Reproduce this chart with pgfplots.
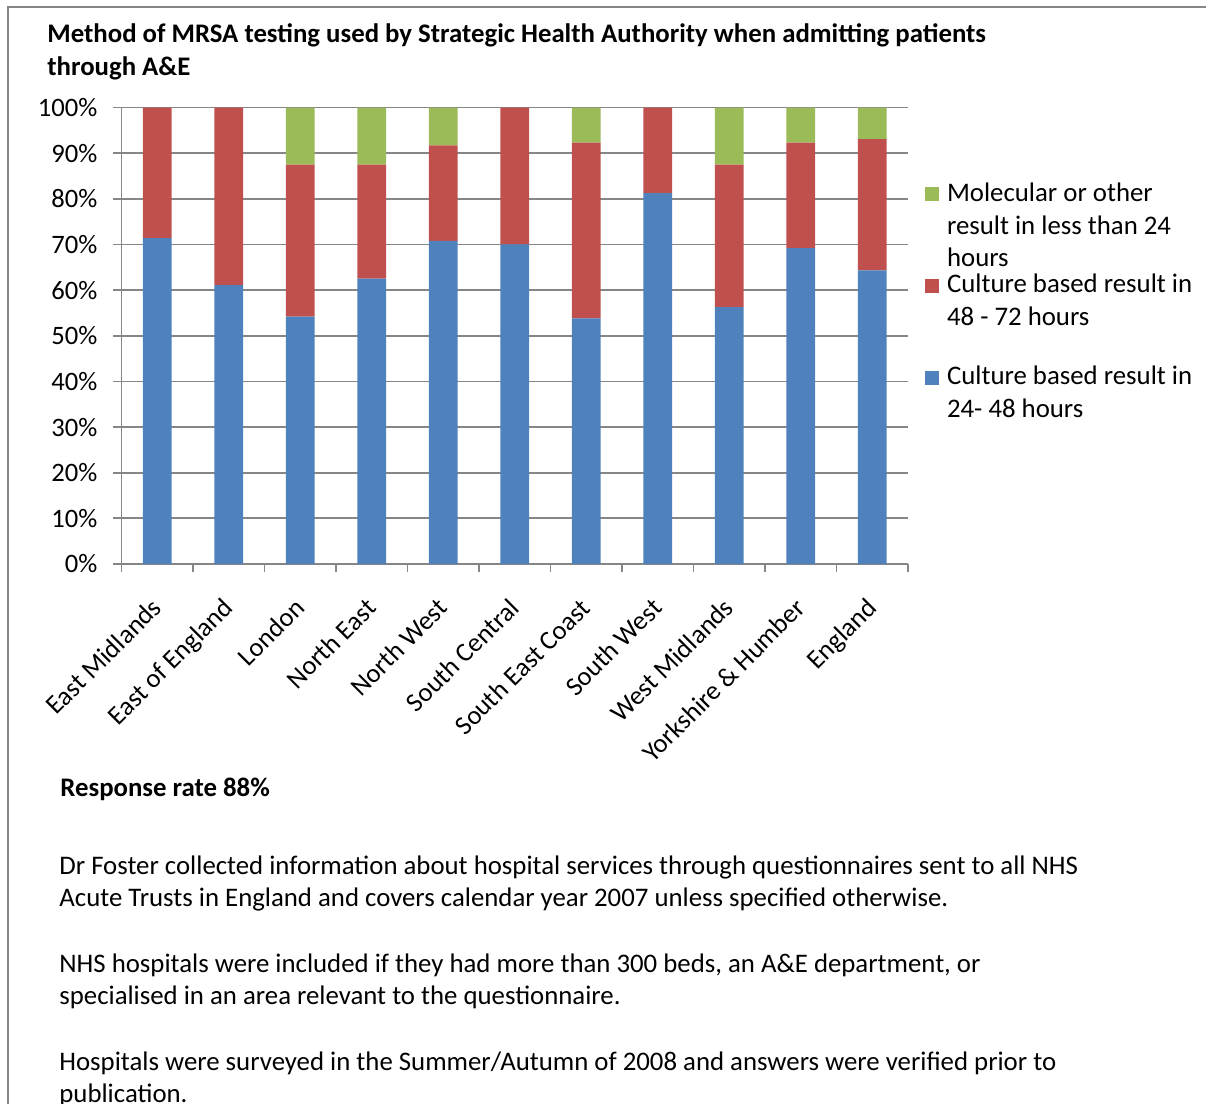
\documentclass[border=0pt]{standalone}
\usepackage{fontspec}
\setmainfont{Carlito}
\usepackage{pgfplots}
\pgfplotsset{compat=1.18}
\definecolor{cblue}{HTML}{4F81BD}
\definecolor{cred}{HTML}{C0504D}
\definecolor{cgreen}{HTML}{9BBB59}
\definecolor{cgrid}{HTML}{868686}
\newcommand{\legtext}[1]{\begin{tabular}[t]{@{}l@{}}#1\end{tabular}}
\begin{document}
\begin{tikzpicture}
\path[use as bounding box] (0,0) rectangle (603pt,-552pt);
\draw[cgrid, line width=1pt] (610pt,-3.5pt) -- (3.75pt,-3.5pt) -- (3.75pt,-560pt);
\node[anchor=base west, font=\bfseries\fontsize{13.4}{16}\selectfont, inner sep=0pt] at (23.5pt,-21.25pt) {Method of MRSA testing used by Strategic Health Authority when admitting patients};
\node[anchor=base west, font=\bfseries\fontsize{13.4}{16}\selectfont, inner sep=0pt] at (23.5pt,-37.6pt) {through A\&E};
\node[anchor=base west, font=\bfseries\fontsize{13.4}{16}\selectfont, inner sep=0pt] at (30pt,-398pt) {Response rate 88\%};
\begin{scope}[every node/.style={anchor=base west, font=\fontsize{13.4}{16}\selectfont, inner sep=0pt}]
\node at (29.5pt,-437pt) {Dr Foster collected information about hospital services through questionnaires sent to all NHS};
\node at (29.5pt,-453pt) {Acute Trusts in England and covers calendar year 2007 unless specified otherwise.};
\node at (29.5pt,-486pt) {NHS hospitals were included if they had more than 300 beds, an A\&E department, or};
\node at (29.5pt,-502.3pt) {specialised in an area relevant to the questionnaire.};
\node at (29.5pt,-535pt) {Hospitals were surveyed in the Summer/Autumn of 2008 and answers were verified prior to};
\node at (29.5pt,-551pt) {publication.};
\end{scope}
\begin{axis}[
  at={(60.75pt,-282pt)}, anchor=south west,
  scale only axis, width=393.25pt, height=228.25pt,
  ybar stacked, bar width=0.4,
  xmin=-0.5, xmax=10.5, ymin=0, ymax=100,
  axis x line*=bottom, axis y line*=left,
  axis line style={draw=cgrid, line width=0.9pt},
  ymajorgrids, grid style={draw=cgrid, line width=0.9pt},
  ytick={0,10,...,100},
  yticklabel={\pgfmathprintnumber{\tick}\%},
  /pgf/number format/assume math mode=true,
  xtick={0,...,10},
  xticklabels={East Midlands,East of England,London,North East,North West,South Central,South East Coast,South West,West Midlands,Yorkshire \& Humber,England},
  major x tick style={draw=none},
  minor xtick={-0.5,0.5,...,10.5},
  tick align=outside, major tick length=4pt, minor tick length=4pt,
  tick style={draw=cgrid, line width=0.9pt},
  ticklabel style={font=\fontsize{13.3}{16}\selectfont},
  yticklabel style={xshift=-4.5pt},
  xticklabel style={rotate=45, anchor=north east, inner sep=1pt, yshift=-5pt, xshift=-10pt},
  reverse legend,
  legend style={draw=none, fill=none, inner sep=0pt, outer sep=0pt, row sep=0pt, column sep=3.8pt,
    at={(1.0222,0.8385)}, anchor=north west, font=\fontsize{13.4}{16.4}\selectfont,
    cells={anchor=base west}},
  legend image code/.code={\fill[#1] (0pt,0pt) rectangle (7pt,7pt);},
]
\addplot[fill=cblue, draw=none] coordinates {(0,71.4) (1,61.1) (2,54.2) (3,62.5) (4,70.8) (5,70.0) (6,53.8) (7,81.25) (8,56.25) (9,69.2) (10,64.3)};
\addlegendentry[text height=10pt, text depth=35.85pt, inner sep=0pt]{\legtext{Culture based result in\\24- 48 hours}}
\addplot[fill=cred, draw=none] coordinates {(0,28.6) (1,38.9) (2,33.3) (3,25.0) (4,20.9) (5,30.0) (6,38.5) (7,18.75) (8,31.25) (9,23.1) (10,28.8)};
\addlegendentry[text height=10pt, text depth=35.85pt, inner sep=0pt]{\legtext{Culture based result in\\48 - 72 hours}}
\addplot[fill=cgreen, draw=none] coordinates {(0,0) (1,0) (2,12.5) (3,12.5) (4,8.3) (5,0) (6,7.7) (7,0) (8,12.5) (9,7.7) (10,6.9)};
\addlegendentry[text height=10pt, text depth=35.85pt, inner sep=0pt]{\legtext{Molecular or other\\result in less than 24\\hours}}
\end{axis}
\end{tikzpicture}
\end{document}
